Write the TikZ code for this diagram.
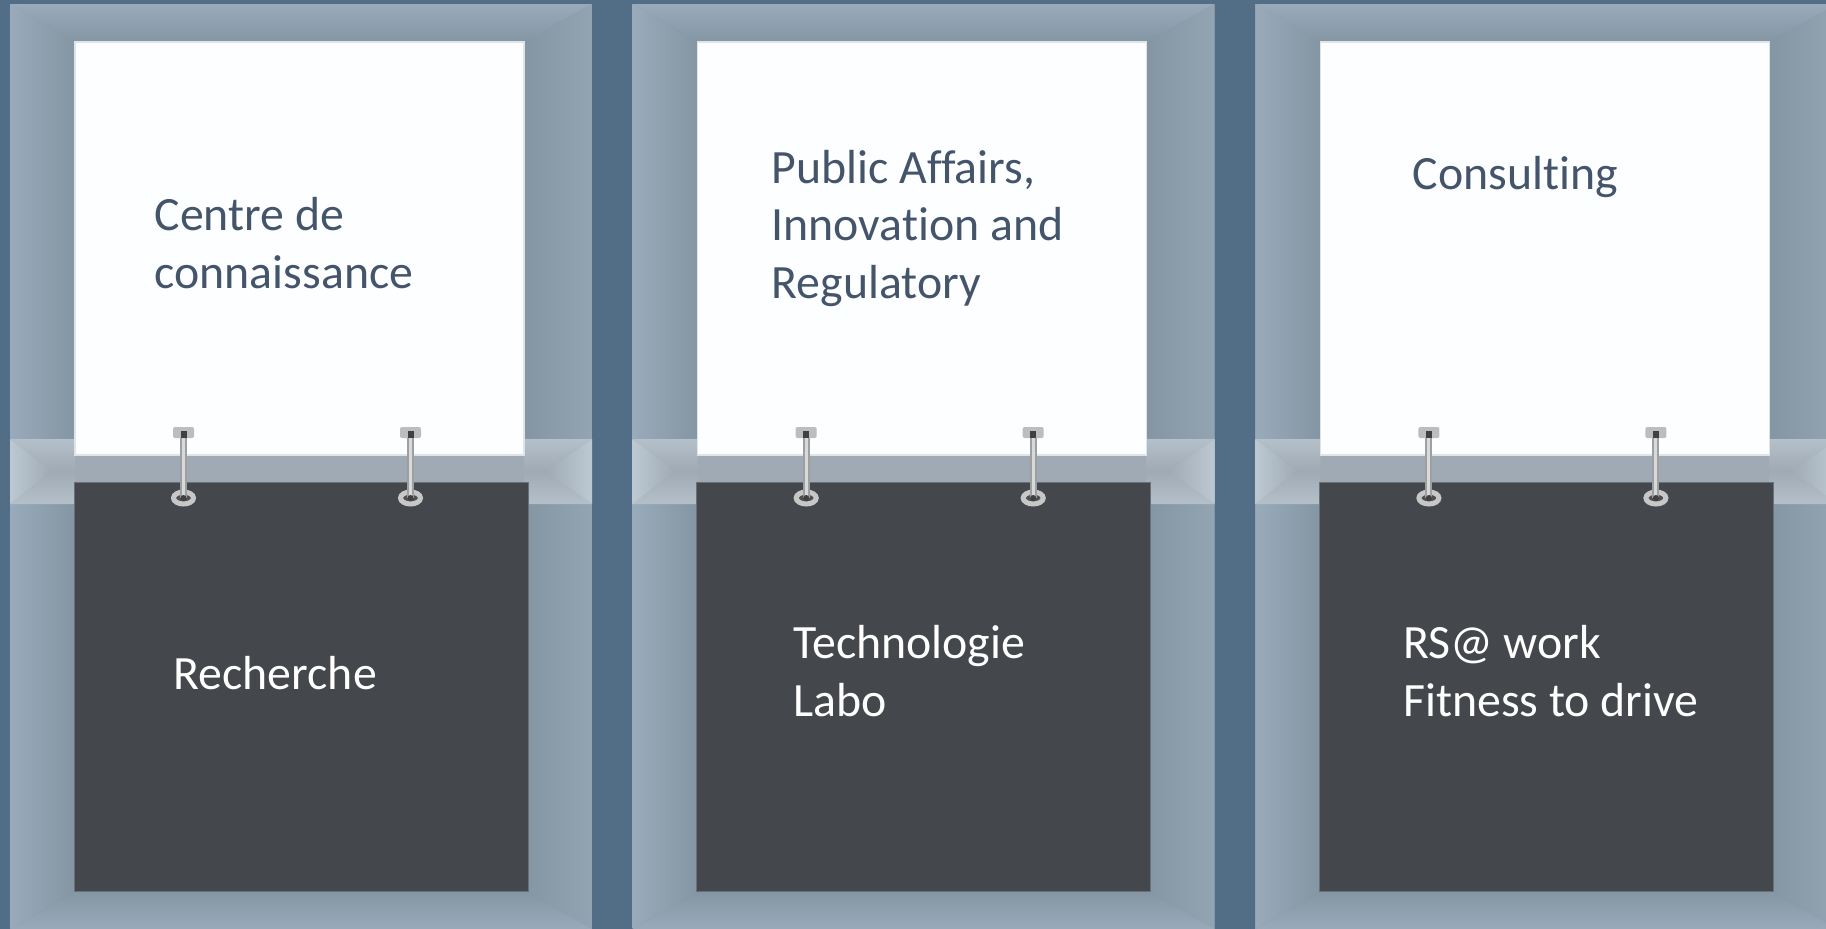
\documentclass[tikz,border=0pt]{standalone}
\usepackage{fontspec}
\usetikzlibrary{shapes.geometric}
\setmainfont[Ligatures=CommonOff]{Carlito}
\definecolor{bgblue}{HTML}{526E87}
\definecolor{outer}{HTML}{99ABBA}
\definecolor{inner}{HTML}{8495A3}
\definecolor{bandc}{HTML}{9FAAB4}
\definecolor{bandl}{HTML}{BCC8D2}
\definecolor{darkbox}{HTML}{44474B}
\definecolor{darkedge}{HTML}{6A7078}
\definecolor{lighttext}{HTML}{44546A}
\definecolor{paper}{HTML}{FDFEFF}
\definecolor{metal}{HTML}{8C8F93}
\tikzset{
  whitebox/.style={anchor=north west,inner sep=0pt,outer sep=0pt,minimum width=449pt,minimum height=413pt,fill=paper,draw=paper!75!inner,line width=1.2pt},
  darkpanel/.style={anchor=north west,inner sep=0pt,outer sep=0pt,minimum width=454pt,minimum height=409pt,fill=darkbox,draw=darkedge,line width=1pt},
  ring/.style={ellipse,inner sep=0pt,outer sep=0pt,minimum width=20pt,minimum height=12pt,fill=metal!55!black,draw=white!78!black,line width=5pt},
  hooktop/.style={rounded corners=2pt,inner sep=0pt,outer sep=0pt,minimum width=21pt,minimum height=11pt,fill=white!74!black},
  rod/.style={line width=7pt,draw=metal!85!white},
  rodcore/.style={line width=3pt,draw=white!85!black},
  blue text/.style={anchor=base west,inner sep=0pt,align=left,text=lighttext,font=\fontsize{47.8}{57.6}\selectfont},
  white text/.style={anchor=base west,inner sep=0pt,align=left,text=white,font=\fontsize{47.8}{57.6}\selectfont}
}
\begin{document}
\begin{tikzpicture}[x=1pt,y=-1pt]
\useasboundingbox (0,0) rectangle (1826,929);
\clip (0,0) rectangle (1826,929);
\fill[bgblue] (0,0) rectangle (1826,929);
\foreach \i/\o in {1/0,2/622.7,3/1245.4}{
\begin{scope}[xshift=\o pt]
  \fill[inner] (10,4) rectangle (592,929);
  \shade[top color=outer,bottom color=inner] (10,4)--(592,4)--(524,42)--(75,42)--cycle;
  \shade[left color=outer,right color=inner] (10,4)--(75,42)--(75,891)--(10,929)--cycle;
  \shade[right color=outer!96!black,left color=inner] (592,4)--(524,42)--(524,891)--(592,929)--cycle;
  \shade[bottom color=outer,top color=inner] (10,929)--(592,929)--(524,891)--(75,891)--cycle;
  \fill[bandc] (10,439) rectangle (592,504);
  \shade[left color=bandl,right color=bandc] (10,439)--(52,471)--(10,504)--cycle;
  \shade[top color=bandl!72!bandc,bottom color=bandc] (10,439)--(75,439)--(75,471)--(52,471)--cycle;
  \shade[bottom color=bandl!72!bandc,top color=bandc] (10,504)--(75,504)--(75,471)--(52,471)--cycle;
  \shade[right color=bandl,left color=bandc] (592,439)--(545,471)--(592,504)--cycle;
  \shade[top color=bandl!72!bandc,bottom color=bandc] (592,439)--(524,439)--(524,471)--(545,471)--cycle;
  \shade[bottom color=bandl!72!bandc,top color=bandc] (592,504)--(524,504)--(524,471)--(545,471)--cycle;
  \node[whitebox] (w\i) at (75,42) {};
  \node[darkpanel] (d\i) at (74,482) {};
  \foreach \j/\x in {a/183.5,b/410.5}{
    \node[hooktop] (t\i\j) at (\x,432.5) {};
    \node[ring] (r\i\j) at (\x,498) {};
    \draw[rod] (t\i\j.south) -- (r\i\j.center);
    \draw[rodcore] (t\i\j.south) -- (r\i\j.center);
    \fill[metal!45!black] (\x-3,431) rectangle (\x+3,438);
    \fill[metal!45!black] (r\i\j.center) circle (3pt);
  }
\end{scope}
}
\node[blue text] (c1) at (154.5,288) {Centre de\\connaissance};
\node[blue text] (c2) at (771.5,298.5) {Public Affairs,\\Innovation and\\Regulatory};
\node[blue text] (c3) at (1412.5,189) {Consulting};
\node[white text] (e1) at (173.5,689) {Recherche};
\node[white text] (e2) at (793,716) {Technologie\\Labo};
\node[white text] (e3) at (1403,716) {RS@ work\\Fitness to drive};
\end{tikzpicture}
\end{document}
